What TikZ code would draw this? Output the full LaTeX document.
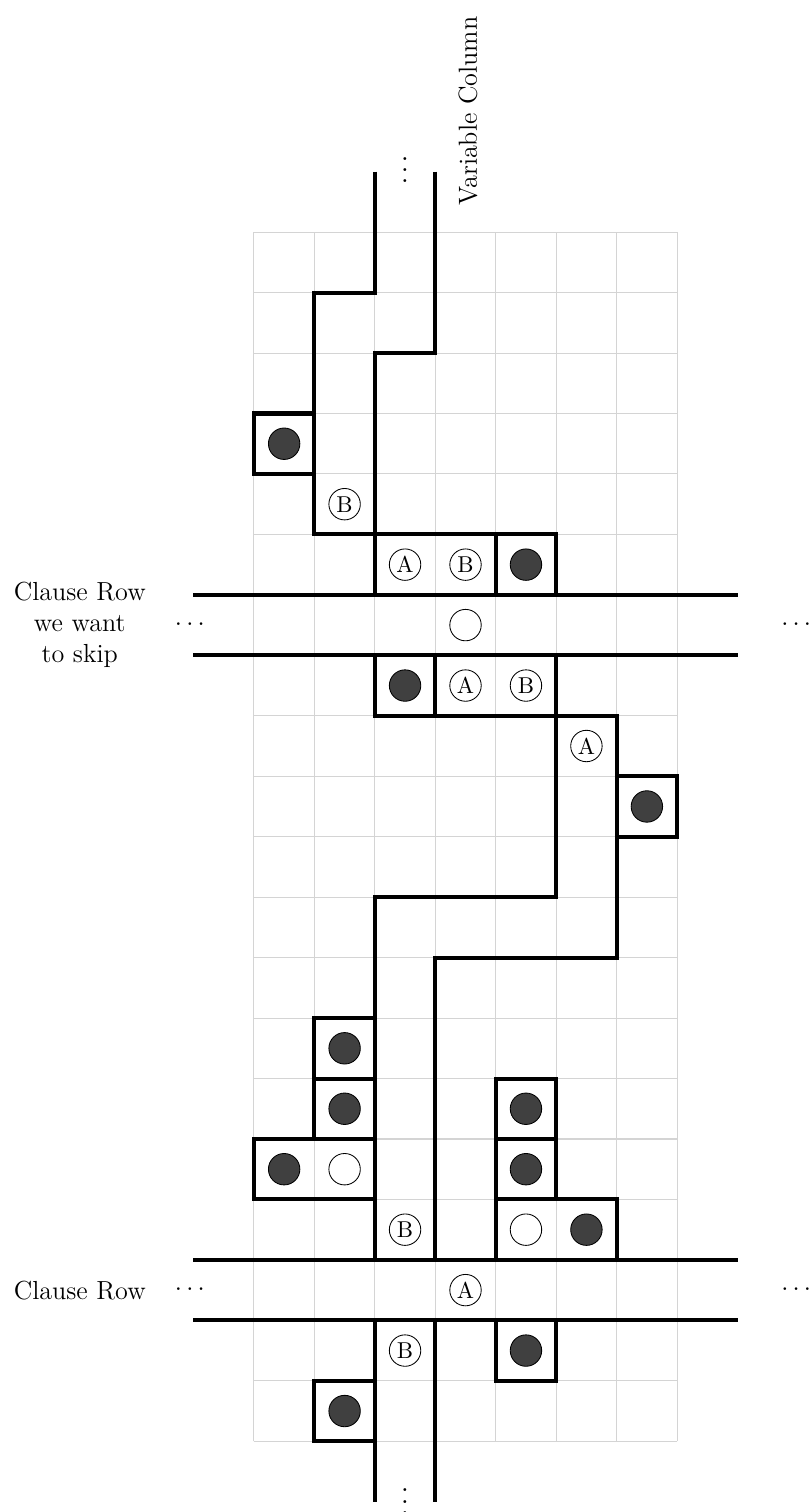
\documentclass[tikz,border=0pt]{standalone}
\begin{document}
\begin{tikzpicture}[x=1cm,y=1cm,
  wall/.style={line width=1.9pt, line join=miter},
  gridline/.style={draw=black!17, line width=0.5pt},
  dotbase/.style={circle, draw=black, line width=0.4pt, minimum size=0.52cm, inner sep=0pt},
  blk/.style={dotbase, fill=black!75},
  wht/.style={dotbase, fill=white},
  lbl/.style={dotbase, font=\fontsize{10.8}{11}\selectfont},
  txt/.style={font=\fontsize{12.3}{14.5}\selectfont, align=center}]
\useasboundingbox (-4.2,-1.17) rectangle (9.21,23.84);
\draw[gridline] (0,0) grid (7,20);

% upper part
\draw[wall] (2,21) -- (2,19) -- (1,19) -- (1,15) -- (5,15) -- (5,14);
\draw[wall] (3,21) -- (3,18) -- (2,18) -- (2,14);
\draw[wall] (4,15) -- (4,14);
\draw[wall] (1,17) -- (0,17) -- (0,16) -- (1,16);
% clause row to skip
\draw[wall] (-1,14) -- (8,14);
\draw[wall] (-1,13) -- (8,13);
% middle
\draw[wall] (2,13) -- (2,12) -- (6,12) -- (6,8) -- (3,8) -- (3,3);
\draw[wall] (5,13) -- (5,9) -- (2,9) -- (2,3);
\draw[wall] (3,13) -- (3,12);
\draw[wall] (6,11) -- (7,11) -- (7,10) -- (6,10);
% lower left
\draw[wall] (2,7) -- (1,7) -- (1,5) -- (0,5) -- (0,4) -- (2,4);
\draw[wall] (1,6) -- (2,6);
\draw[wall] (1,5) -- (2,5);
% lower right
\draw[wall] (4,3) -- (4,6) -- (5,6) -- (5,4) -- (6,4) -- (6,3);
\draw[wall] (4,5) -- (5,5);
\draw[wall] (4,4) -- (5,4);
% clause row
\draw[wall] (-1,3) -- (8,3);
\draw[wall] (-1,2) -- (8,2);
% bottom
\draw[wall] (2,2) -- (2,-1);
\draw[wall] (3,2) -- (3,-1);
\draw[wall] (4,2) -- (4,1) -- (5,1) -- (5,2);
\draw[wall] (2,1) -- (1,1) -- (1,0) -- (2,0);

% markers
\node[blk] (d1) at (0.5,16.5) {};
\node[lbl] (b1) at (1.5,15.5) {B};
\node[lbl] (a1) at (2.5,14.5) {A};
\node[lbl] (b2) at (3.5,14.5) {B};
\node[blk] (d2) at (4.5,14.5) {};
\node[wht] (w1) at (3.5,13.5) {};
\node[blk] (d3) at (2.5,12.5) {};
\node[lbl] (a2) at (3.5,12.5) {A};
\node[lbl] (b3) at (4.5,12.5) {B};
\node[lbl] (a3) at (5.5,11.5) {A};
\node[blk] (d4) at (6.5,10.5) {};
\node[blk] (d5) at (1.5,6.5) {};
\node[blk] (d6) at (1.5,5.5) {};
\node[blk] (d7) at (0.5,4.5) {};
\node[wht] (w2) at (1.5,4.5) {};
\node[blk] (d8) at (4.5,5.5) {};
\node[blk] (d9) at (4.5,4.5) {};
\node[wht] (w3) at (4.5,3.5) {};
\node[blk] (d10) at (5.5,3.5) {};
\node[lbl] (b4) at (2.5,3.5) {B};
\node[lbl] (a4) at (3.5,2.5) {A};
\node[lbl] (b5) at (2.5,1.5) {B};
\node[blk] (d11) at (4.5,1.5) {};
\node[blk] (d12) at (1.5,0.5) {};

% dots and labels
\node[scale=1.3] (vtop) at (2.5,21.16) {$\vdots$};
\node[scale=1.3] (vbot) at (2.5,-0.86) {$\vdots$};
\node[txt] (l1) at (-1.06,13.5) {$\cdots$};
\node[txt] (r1) at (8.97,13.5) {$\cdots$};
\node[txt] (l2) at (-1.06,2.5) {$\cdots$};
\node[txt] (r2) at (8.97,2.5) {$\cdots$};
\node[txt] (skip) at (-2.88,13.5) {Clause Row\\we want\\to skip};
\node[txt] (clause) at (-2.88,2.5) {Clause Row};
\node[txt, rotate=90] (var) at (3.54,22.0) {Variable Column};
\end{tikzpicture}
\end{document}
